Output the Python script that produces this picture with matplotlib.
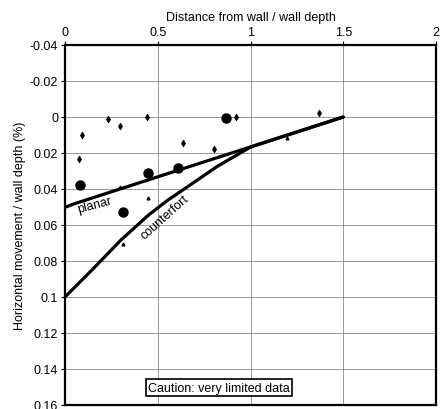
import numpy as np
import matplotlib.pyplot as plt

plt.rcParams["font.family"] = ["Liberation Sans", "DejaVu Sans"]

# -----------------------
# Data
# -----------------------
# large dots
big_x = [0.08, 0.31, 0.45, 0.61, 0.87]
big_y = [0.0376, 0.053, 0.031, 0.0283, 0.0005]

# small diamonds
dia_x = [0.09, 0.234, 0.297, 0.444, 0.638, 0.077, 0.803, 0.92, 1.371]
dia_y = [0.0098, 0.001, 0.0048, 0.0, 0.0146, 0.0233, 0.0178, 0.0, -0.0022]

# tiny ticks (mostly sitting on the lines)
tiny_x = [0.297, 0.449, 0.311, 1.195]
tiny_y = [0.039, 0.045, 0.0706, 0.0118]

# design lines
planar_x = [0.0, 0.05, 1.5]
planar_y = [0.0502, 0.0482, 0.0]
cfort_x = [0.0, 0.15, 0.3, 0.45, 0.55, 0.65, 0.82, 1.0, 1.5]
cfort_y = [0.1, 0.0845, 0.0685, 0.0545, 0.0465, 0.0395, 0.0275, 0.0167, 0.0]

xticks = [0, 0.5, 1, 1.5, 2]
xticklabels = ["0", "0.5", "1", "1.5", "2"]
yticks = [-0.04, -0.02, 0, 0.02, 0.04, 0.06, 0.08, 0.1, 0.12, 0.14, 0.16]
yticklabels = ["-0.04", "-0.02", "0", "0.02", "0.04", "0.06", "0.08",
               "0.1", "0.12", "0.14", "0.16"]

fig = plt.figure(figsize=(4.41, 4.10), dpi=100)
ax = fig.add_axes([65 / 441, 4 / 410, 371 / 441, 360 / 410])

ax.plot(planar_x, planar_y, color="black", lw=2.3, solid_capstyle="round")
ax.plot(cfort_x, cfort_y, color="black", lw=2.3, solid_capstyle="round")

ax.plot(big_x, big_y, "o", color="black", ms=6.5, ls="none")
ax.plot(dia_x, dia_y, "d", color="black", ms=3.5, mew=0.5, ls="none")
ax.plot(tiny_x, tiny_y, "^", color="black", ms=2, ls="none")

ax.text(0.16, 0.0485, "planar", rotation=15, fontsize=9,
        ha="center", va="center")
ax.text(0.54, 0.0555, "counterfort", rotation=42, fontsize=9,
        ha="center", va="center")
ax.text(0.83, 0.1505, "Caution: very limited data", fontsize=9,
        ha="center", va="center",
        bbox=dict(boxstyle="square,pad=0.2", fc="white", ec="black", lw=1.2))

ax.set_xlim(0, 2)
ax.set_ylim(0.16, -0.04)
ax.xaxis.tick_top()
ax.xaxis.set_label_position("top")
ax.set_xticks(xticks)
ax.set_xticklabels(xticklabels)
ax.set_yticks(yticks)
ax.set_yticklabels(yticklabels)
ax.tick_params(labelsize=9, length=3, width=0.8, direction="out", pad=2)
ax.set_xlabel("Distance from wall / wall depth", fontsize=9, labelpad=4)
ax.set_ylabel("Horizontal movement / wall depth (%)", fontsize=9, labelpad=3)

ax.grid(True, color="#888888", lw=0.6)
ax.set_axisbelow(True)
for s in ax.spines.values():
    s.set_linewidth(1.6)

fig.savefig("out.png", dpi=100)
